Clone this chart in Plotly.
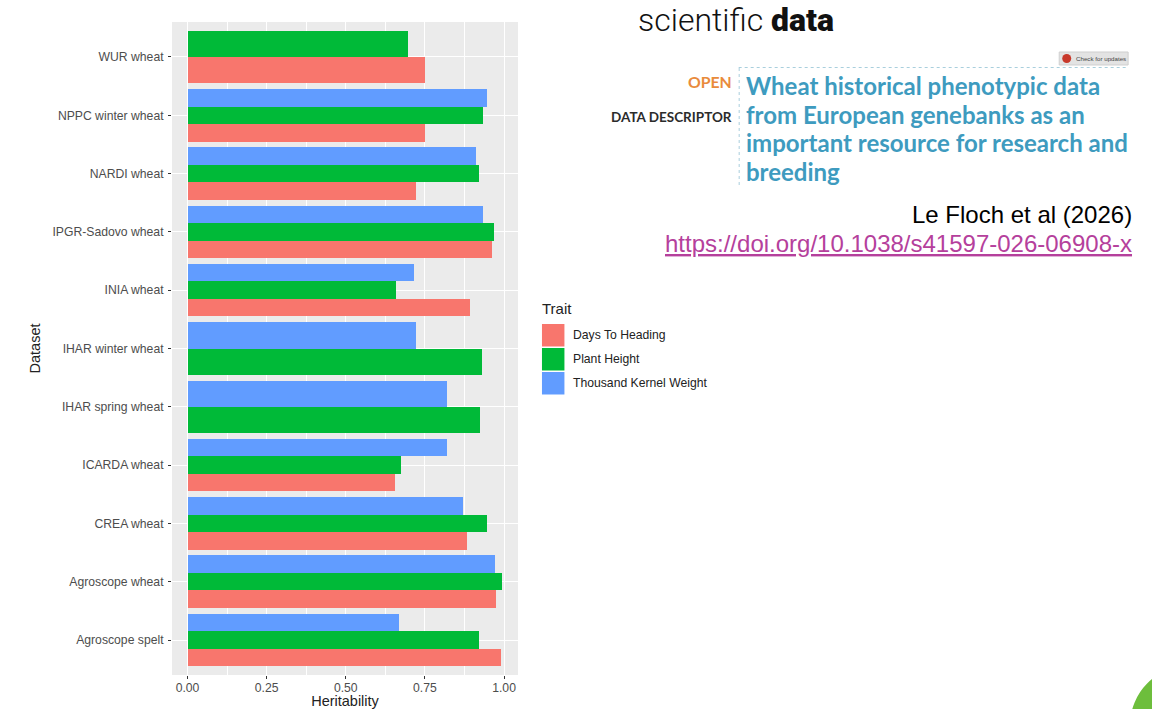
import plotly.graph_objects as go

datasets = ["Agroscope spelt", "Agroscope wheat", "CREA wheat", "ICARDA wheat", "IHAR spring wheat",
            "IHAR winter wheat", "INIA wheat", "IPGR-Sadovo wheat", "NARDI wheat", "NPPC winter wheat", "WUR wheat"]
traits = ["Days To Heading", "Plant Height", "Thousand Kernel Weight"]
colors = ["#F8766D", "#00BA38", "#619CFF"]
days_to_heading = [0.99, 0.975, 0.883, 0.657, None, None, 0.893, 0.963, 0.723, 0.75, 0.75]
plant_height = [0.92, 0.995, 0.945, 0.675, 0.925, 0.93, 0.66, 0.967, 0.922, 0.935, 0.695]
kernel_weight = [0.667, 0.97, 0.87, 0.82, 0.82, 0.723, 0.717, 0.933, 0.912, 0.947, None]
series = [days_to_heading, plant_height, kernel_weight]
x_ticks = [0, 0.25, 0.5, 0.75, 1.0]
x_labels = ["0.00", "0.25", "0.50", "0.75", "1.00"]

W, H = 1152, 709
ML, MR, MT, MB = 171.5, 634, 22, 34
PW, PH = W - ML - MR, H - MT - MB


def px(x):
    return (x - ML) / PW


def py(y):
    return 1 - (y - MT) / PH


DODGE = 0.9
fig = go.Figure()
for t, (name, color, vals) in enumerate(zip(traits, colors, series)):
    xs, ys, widths, offsets = [], [], [], []
    for i, d in enumerate(datasets):
        if vals[i] is None:
            continue
        present = [k for k in range(3) if series[k][i] is not None]
        w = DODGE / len(present)
        xs.append(vals[i])
        ys.append(d)
        widths.append(w)
        offsets.append(-DODGE / 2 + present.index(t) * w)
    fig.add_trace(go.Bar(x=xs, y=ys, name=name, orientation="h", width=widths, offset=offsets,
                         marker=dict(color=color, line_width=0), showlegend=False))

shapes, ann = [], []


def text(x, y, s, size, color="#000", font="Liberation Sans", anchor="left", weight=None):
    f = dict(size=size, color=color, family=font)
    if weight:
        f["weight"] = weight
    ann.append(dict(xref="paper", yref="paper", x=px(x), y=py(y), text=s, showarrow=False,
                    xanchor=anchor, yanchor="middle", font=f))


text(540, 308, "Trait", 15, "#222")
for i, (name, color) in enumerate(zip(traits, colors)):
    y0 = 324 + i * 24
    shapes.append(dict(type="rect", xref="paper", yref="paper", x0=px(542), x1=px(564.5),
                       y0=py(y0), y1=py(y0 + 22.5), fillcolor=color, line_width=0))
    text(571, y0 + 11, name, 12.2, "#222")

text(636, 20, "scientific", 32, "#111", "Roboto", weight=300)
text(769, 20, "data", 32, "#111", "Roboto", weight=900)
text(734, 81, "<b>OPEN</b>", 15.8, "#E98B3C", "Lato", anchor="right")
text(734, 117, "<b>DATA DESCRIPTOR</b>", 13.5, "#2b2b2b", "Lato", anchor="right")
for y, s in zip([85.5, 114, 142.5, 171.5], ["Wheat historical phenotypic data", "from European genebanks as an",
                                          "important resource for research and", "breeding"]):
    text(744, y, "<b>" + s + "</b>", 24, "#3E9BBF", "Lato")
text(1135, 214, "Le Floch et al (2026)", 24, "#000", anchor="right")
text(1135, 243, "<u>https://doi.org/10.1038/s41597-026-06908-x</u>", 24, "#B5409C", anchor="right")

# dotted rules of the article header
shapes.append(dict(type="line", xref="paper", yref="paper", x0=px(739), x1=px(1129), y0=py(67.5),
                   y1=py(67.5), line=dict(color="#A9CFDD", width=1, dash="dot")))
shapes.append(dict(type="line", xref="paper", yref="paper", x0=px(739.5), x1=px(739.5), y0=py(68),
                   y1=py(187), line=dict(color="#A9CFDD", width=1, dash="dot")))
# check-for-updates badge
shapes.append(dict(type="rect", xref="paper", yref="paper", x0=px(1060), x1=px(1129), y0=py(52),
                   y1=py(65), fillcolor="#E3E3E3", line=dict(color="#CFCFCF", width=1)))
shapes.append(dict(type="circle", xref="paper", yref="paper", x0=px(1063), x1=px(1072), y0=py(54),
                   y1=py(63), fillcolor="#C8392B", line_width=0))
text(1075, 58.5, "Check for updates", 6.2, "#444")
# green corner arc
shapes.append(dict(type="circle", xref="paper", yref="paper", x0=px(1131), x1=px(1249), y0=py(666),
                   y1=py(784), fillcolor="#6DBE3C", line_width=0))

fig.update_layout(
    width=W, height=H, autosize=False, barmode="overlay", bargap=0,
    margin=dict(l=ML, r=MR, t=MT, b=MB, autoexpand=False),
    paper_bgcolor="white", plot_bgcolor="#EBEBEB",
    font=dict(family="Liberation Sans", color="#4D4D4D", size=12.2),
    shapes=shapes, annotations=ann,
    xaxis=dict(range=[-0.049, 1.044], tickvals=x_ticks, ticktext=x_labels, showgrid=True, gridcolor="white",
               gridwidth=1.1, zeroline=False, ticks="outside", ticklen=3, tickcolor="#333", tickwidth=1,
               tickfont=dict(size=12.2, color="#4D4D4D"), automargin=False, ticklabelstandoff=-2,
               minor=dict(tickvals=[0.125, 0.375, 0.625, 0.875], showgrid=True, gridcolor="white", gridwidth=0.6, ticks=""),
               title=dict(text="Heritability", font=dict(size=14.5, color="#222"), standoff=8)),
    yaxis=dict(categoryorder="array", categoryarray=datasets, range=[-0.6, 10.6], showgrid=True, gridcolor="white",
               gridwidth=1.1, zeroline=False, ticks="outside", ticklen=3, tickcolor="#333", tickwidth=1,
               tickfont=dict(size=12.2, color="#4D4D4D"), automargin=False, ticklabelstandoff=2,
               title=dict(text="Dataset", font=dict(size=14.5, color="#222"), standoff=8)),
)
fig.write_html("out.html", config=dict(displayModeBar=False),
               post_script="document.body.style.margin='0';document.body.style.overflow='hidden';")
